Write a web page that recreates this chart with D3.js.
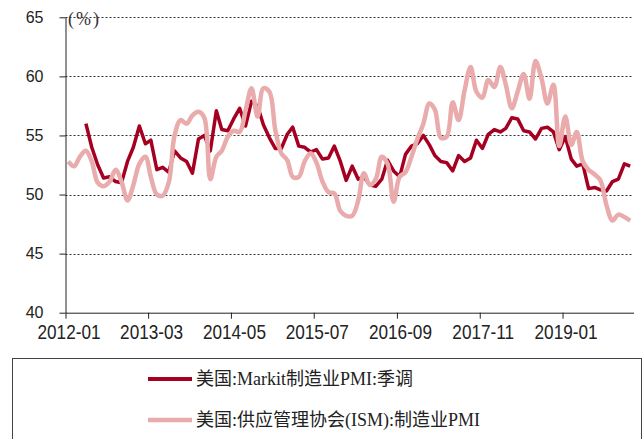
<!DOCTYPE html>
<html>
<head>
<meta charset="utf-8">
<script src="https://cdn.jsdelivr.net/npm/d3@7"></script>
<style>
  body { margin: 0; background: #fff; }
  svg { display: block; }
</style>
</head>
<body>
<div id="chart"></div>
<script>
// monthly categories, 2012-01 .. 2019-12
var months = d3.timeMonth.range(new Date(2012, 0, 1), new Date(2020, 0, 1));

// US Markit manufacturing PMI (SA), starts 2012-04
var markit = [null, null, null, 56.0, 54.0, 52.5, 51.4, 51.5, 51.1, 51.0, 52.8, 54.0,
  55.8, 54.3, 54.6, 52.1, 52.3, 51.9, 53.7, 53.1, 52.8, 51.8, 54.7, 55.0,
  53.7, 57.1, 55.5, 55.4, 56.4, 57.3, 55.8, 57.9, 57.5, 55.9, 54.8, 53.9,
  53.9, 55.1, 55.7, 54.1, 54.0, 53.6, 53.8, 53.0, 53.1, 54.1, 52.8, 51.2,
  52.4, 51.3, 51.5, 50.8, 50.7, 51.3, 52.9, 52.0, 51.5, 53.4, 54.1, 54.3,
  55.0, 54.2, 53.3, 52.8, 52.7, 52.0, 53.3, 52.8, 53.1, 54.6, 53.9, 55.1,
  55.5, 55.3, 55.6, 56.5, 56.4, 55.4, 55.3, 54.7, 55.6, 55.7, 55.3, 53.8,
  54.9, 53.0, 52.4, 52.6, 50.5, 50.6, 50.4, 50.3, 51.1, 51.3, 52.6, 52.4];

// US ISM manufacturing PMI
var ism = [52.8, 52.4, 53.2, 53.7, 52.8, 51.0, 50.7, 51.1, 52.1, 51.1, 49.5, 50.8,
  52.6, 53.2, 51.5, 50.0, 49.9, 51.0, 55.0, 56.3, 56.0, 56.7, 57.0, 56.5,
  51.3, 53.2, 53.7, 54.9, 55.4, 55.3, 57.1, 59.0, 56.6, 59.0, 58.7, 55.5,
  53.5, 52.9, 51.5, 51.5, 52.8, 53.5, 52.7, 51.1, 50.2, 50.1, 48.6, 48.2,
  48.2, 49.5, 51.8, 50.8, 51.3, 53.2, 52.6, 49.4, 51.5, 51.9, 53.2, 54.7,
  56.0, 57.7, 57.2, 54.8, 54.9, 57.8, 56.3, 58.8, 60.8, 58.7, 58.2, 59.7,
  59.1, 60.8, 59.3, 57.3, 58.7, 60.2, 58.1, 61.3, 59.8, 57.7, 59.3, 54.1,
  56.6, 54.2, 55.3, 52.8, 52.1, 51.7, 51.2, 49.1, 47.8, 48.3, 48.1, 47.8];

var xTicks = ["2012-01", "2013-03", "2014-05", "2015-07", "2016-09", "2017-11", "2019-01"],
    yTicks = [40, 45, 50, 55, 60, 65];

var seriesNames = ["美国:Markit制造业PMI:季调", "美国:供应管理协会(ISM):制造业PMI"],
    colors = ["#a50021", "#e9abab"];

var width = 643, height = 439;

var svg = d3.select("#chart").append("svg")
            .attr("width", width)
            .attr("height", height);

var parseMonth = d3.timeParse("%Y-%m");

// x: month timeline, points sit mid-month
var xScale = d3.scaleTime()
               .domain([new Date(2012, 0, 1), new Date(2020, 0, 1)])
               .range([65.5, 633.5]);
var yScale = d3.scaleLinear().domain([40, 65]).range([312.7, 17.3]);

var mid = function(d) { return d3.timeDay.offset(d, 14); };

// gridlines
svg.append("g")
   .selectAll("line")
   .data(yTicks.filter(function(v) { return v > 40; }))
   .enter()
   .append("line")
   .attr("x1", xScale.range()[0])
   .attr("x2", xScale.range()[1])
   .attr("y1", function(d) { return Math.round(yScale(d)) + 0.5; })
   .attr("y2", function(d) { return Math.round(yScale(d)) + 0.5; })
   .style("stroke", "#333")
   .style("stroke-width", 1)
   .style("stroke-dasharray", "2,2");

// y axis
var yAxis = d3.axisLeft(yScale)
              .tickValues(yTicks)
              .tickSize(6)
              .tickSizeOuter(0)
              .tickPadding(16);

var yg = svg.append("g")
            .attr("transform", "translate(" + (xScale.range()[0]) + ",0)")
            .call(yAxis);
yg.selectAll("text")
  .style("font-family", "'Liberation Sans', Arial, sans-serif")
  .style("font-size", "16px")
  .style("fill", "#222");

// x axis
var xAxis = d3.axisBottom(xScale)
              .tickValues(xTicks.map(parseMonth))
              .tickFormat(d3.timeFormat("%Y-%m"))
              .tickSize(6)
              .tickSizeOuter(0)
              .tickPadding(6);

var xg = svg.append("g")
            .attr("transform", "translate(0," + yScale(40) + ")")
            .call(xAxis);
xg.selectAll("text")
  .attr("y", 26)
  .attr("dy", null)
  .attr("transform", "translate(3,0) scale(0.86,1)")
  .style("font-family", "'Liberation Sans', Arial, sans-serif")
  .style("font-size", "20px")
  .style("fill", "#222");

svg.selectAll(".domain, .tick line").style("stroke", "#222");

svg.append("text")
   .attr("x", 68)
   .attr("y", 25)
   .style("font-family", "'Liberation Serif', 'Times New Roman', serif")
   .style("font-size", "18px")
   .style("letter-spacing", "2px")
   .style("fill", "#333")
   .text("(%)");

// lines
var markitLine = d3.line()
                   .defined(function(d) { return d != null; })
                   .x(function(d, i) { return xScale(mid(months[i])); })
                   .y(function(d) { return yScale(d); });

var ismLine = d3.line()
                .x(function(d, i) { return xScale(mid(months[i])); })
                .y(function(d) { return yScale(d); })
                .curve(d3.curveCatmullRom.alpha(0.5));

svg.append("path")
   .datum(markit)
   .attr("d", markitLine)
   .style("fill", "none")
   .style("stroke", colors[0])
   .style("stroke-width", 3.5)
   .style("stroke-linejoin", "round");

svg.append("path")
   .datum(ism)
   .attr("d", ismLine)
   .style("fill", "none")
   .style("stroke", colors[1])
   .style("stroke-width", 4.5)
   .style("stroke-linejoin", "round");

// legend box
svg.append("rect")
   .attr("x", 12.5)
   .attr("y", 358.5)
   .attr("width", 629)
   .attr("height", 100)
   .style("fill", "none")
   .style("stroke", "#444")
   .style("stroke-width", 1);

var legend = svg.selectAll(".legend")
                .data(seriesNames)
                .enter()
                .append("g")
                .attr("class", "legend")
                .attr("transform", function(d, i) {
                  return "translate(148," + (379 + i * 41) + ")";
                });

legend.append("line")
      .attr("x1", 0)
      .attr("x2", 44)
      .style("stroke", function(d, i) { return colors[i]; })
      .style("stroke-width", function(d, i) { return i ? 4.5 : 4; });

legend.append("text")
      .attr("x", 48)
      .attr("dy", "0.36em")
      .style("font-family", "'Liberation Serif', 'Times New Roman', 'Noto Sans CJK SC', serif")
      .style("font-size", "18px")
      .style("fill", "#222")
      .text(function(d) { return d; });
</script>
</body>
</html>
